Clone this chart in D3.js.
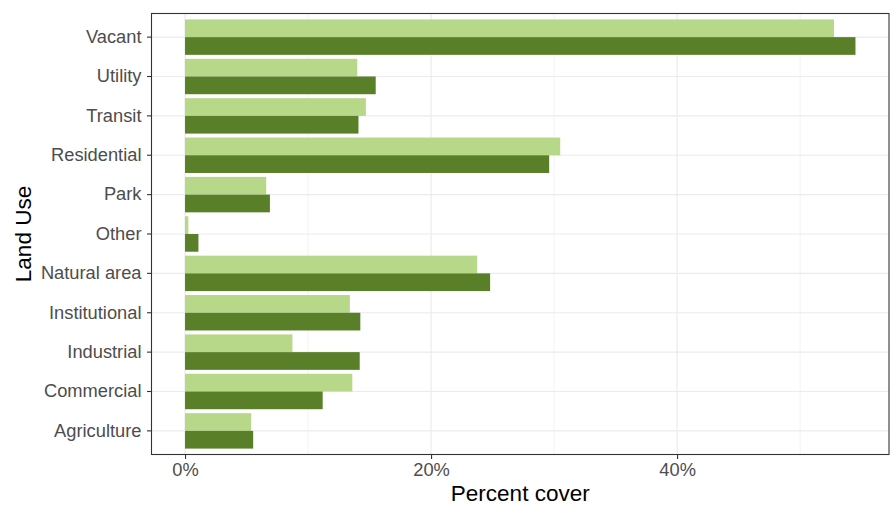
<!DOCTYPE html>
<html>
<head>
<meta charset="utf-8">
<script src="https://cdn.jsdelivr.net/npm/d3@7"></script>
<style>
  html, body { margin: 0; padding: 0; background: #fff; }
  svg { display: block; font-family: "Liberation Sans", Arial, sans-serif; }
</style>
</head>
<body>
<svg id="chart" width="895" height="505"></svg>
<script>
// Data (top-to-bottom as displayed)
const categories = ["Vacant", "Utility", "Transit", "Residential", "Park", "Other",
  "Natural area", "Institutional", "Industrial", "Commercial", "Agriculture"];
const seriesNames = ["Series A", "Series B"];
const seriesA = [52.75, 14.0, 14.7, 30.5, 6.6, 0.27, 23.75, 13.4, 8.73, 13.6, 5.38];
const seriesB = [54.5, 15.5, 14.1, 29.6, 6.9, 1.09, 24.8, 14.25, 14.2, 11.19, 5.54];
const xTicks = [0, 20, 40];
const xMinorTicks = [10, 30, 50];
const colors = ["#b7d789", "#5a7f29"];

const W = 895, H = 505;
const panel = { left: 151.5, top: 13.5, right: 889, bottom: 454.5 };

const svg = d3.select("#chart");

const maxV = d3.max(seriesA.concat(seriesB));
const x = d3.scaleLinear()
  .domain([-0.05 * maxV, 1.05 * maxV])
  .range([panel.left, panel.right]);

const y = d3.scaleBand()
  .domain(categories)
  .range([panel.top, panel.bottom])
  .paddingInner(0)
  .paddingOuter(0.1);

const step = y.step();
const barH = step * 0.9 / 2;

// Background
svg.append("rect").attr("x", panel.left).attr("y", panel.top)
  .attr("width", panel.right - panel.left).attr("height", panel.bottom - panel.top)
  .attr("fill", "#fff");

// Grid
const grid = svg.append("g");
xMinorTicks.forEach(t => {
  grid.append("line").attr("x1", x(t)).attr("x2", x(t))
    .attr("y1", panel.top).attr("y2", panel.bottom)
    .attr("stroke", "#ebebeb").attr("stroke-width", 0.6);
});
xTicks.forEach(t => {
  grid.append("line").attr("x1", x(t)).attr("x2", x(t))
    .attr("y1", panel.top).attr("y2", panel.bottom)
    .attr("stroke", "#ebebeb").attr("stroke-width", 1.2);
});
categories.forEach(c => {
  const cy = y(c) + step / 2;
  grid.append("line").attr("x1", panel.left).attr("x2", panel.right)
    .attr("y1", cy).attr("y2", cy)
    .attr("stroke", "#ebebeb").attr("stroke-width", 1.2);
});

// Bars
const seriesVals = [seriesA, seriesB];
seriesVals.forEach((vals, si) => {
  svg.append("g").selectAll("rect")
    .data(categories.map((c, i) => ({ c, v: vals[i] })))
    .join("rect")
    .attr("x", d => x(0))
    .attr("y", d => y(d.c) + step * 0.05 + si * barH)
    .attr("width", d => x(d.v) - x(0))
    .attr("height", barH)
    .attr("fill", colors[si]);
});

// Panel border
svg.append("rect").attr("x", panel.left).attr("y", panel.top)
  .attr("width", panel.right - panel.left).attr("height", panel.bottom - panel.top)
  .attr("fill", "none").attr("stroke", "#333333").attr("stroke-width", 1.1);

// Y axis
const yAxis = d3.axisLeft(y).tickSize(4.5).tickPadding(5.5);
const gy = svg.append("g").attr("transform", `translate(${panel.left},0)`).call(yAxis);
gy.select(".domain").remove();
gy.selectAll(".tick line").attr("stroke", "#333333").attr("stroke-width", 1.1);
gy.selectAll(".tick text").attr("fill", "#4d4d4d").style("font-size", "18.3px")
  .style("font-family", "Liberation Sans, Arial, sans-serif");

// X axis
const xAxis = d3.axisBottom(x).tickValues(xTicks).tickFormat(d => d + "%").tickSize(4.5).tickPadding(4);
const gx = svg.append("g").attr("transform", `translate(0,${panel.bottom})`).call(xAxis);
gx.select(".domain").remove();
gx.selectAll(".tick line").attr("stroke", "#333333").attr("stroke-width", 1.1);
gx.selectAll(".tick text").attr("fill", "#4d4d4d").style("font-size", "18.3px")
  .style("font-family", "Liberation Sans, Arial, sans-serif");

// Axis titles
svg.append("text")
  .attr("x", (panel.left + panel.right) / 2)
  .attr("y", 501)
  .attr("text-anchor", "middle")
  .style("font-size", "22.5px")
  .attr("fill", "#000")
  .text("Percent cover");

svg.append("text")
  .attr("transform", `translate(30.5,${(panel.top + panel.bottom) / 2}) rotate(-90)`)
  .attr("text-anchor", "middle")
  .style("font-size", "22.5px")
  .attr("fill", "#000")
  .text("Land Use");
</script>
</body>
</html>
